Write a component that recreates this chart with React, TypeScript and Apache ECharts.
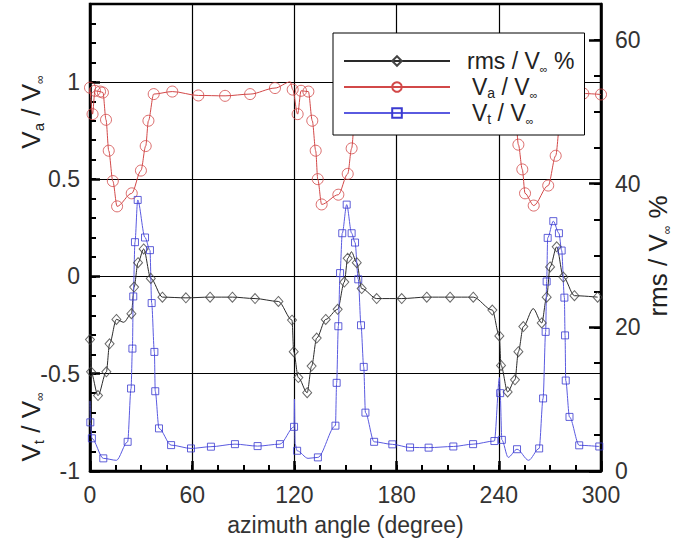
import React, { useEffect, useRef } from 'react';
import * as echarts from 'echarts';

// ---- data (azimuth angle in degrees, value) ----
// rms / V∞ % (right axis) : points drawn with diamond markers
const rmsMarkers: [number, number][] = [
  [0, 18.3], [0.6, 13.8], [4.7, 10.5], [9.6, 13.8], [11.5, 17.7], [15.5, 21.1],
  [24.3, 21.9], [25.9, 25.6], [28.2, 29.0], [31.5, 30.9], [35.7, 26.8], [42.5, 24.2],
  [56.3, 24.1], [70.5, 24.2], [83.6, 24.2], [96.9, 24.0], [110.6, 23.6], [118.6, 21.0],
  [119.6, 16.6], [122.3, 13.0], [127.5, 10.9], [130.1, 14.6], [133.1, 18.5], [138.4, 21.1],
  [145.4, 22.5], [149.3, 26.3], [151.3, 29.6], [156.6, 29.0], [159.5, 25.4], [168.3, 24.0],
  [183.0, 24.0], [197.7, 24.2], [211.4, 24.2], [225.0, 24.2], [236.2, 22.4], [240.3, 18.8],
  [241.3, 14.7], [245.2, 11.0], [249.5, 12.7], [251.5, 16.6], [254.4, 20.1], [265.2, 20.6],
  [268.1, 24.2], [270.1, 28.4], [274.0, 31.2], [277.9, 27.0], [284.4, 24.4], [298.0, 24.2],
];
// rms curve points without a marker
const rmsCurveOnly: [number, number][] = [[19.8, 20.7], [153.5, 30.5], [260.2, 22.6]];

// Va / V∞ (left axis) : circle markers
const vaMarkers: [number, number][] = [
  [0, 0.97], [1.5, 0.834], [2.9, 0.954], [5.9, 0.95], [7.6, 0.945], [9.4, 0.805],
  [11.0, 0.646], [13.4, 0.49], [15.9, 0.36], [24.5, 0.427], [29.9, 0.544], [32.7, 0.67],
  [34.3, 0.8], [37.4, 0.937], [48.3, 0.95], [63.6, 0.93], [79.3, 0.928], [94.0, 0.937],
  [108.6, 0.968], [119.0, 0.96], [121.9, 0.834], [123.9, 0.954], [128.2, 0.95], [130.5, 0.8],
  [132.5, 0.646], [133.7, 0.5], [136.0, 0.37], [145.8, 0.42], [151.3, 0.527], [153.6, 0.658],
  [155.3, 0.8], [157.6, 0.937], [168.3, 0.95], [183.6, 0.93], [199.3, 0.928], [214.0, 0.937],
  [228.6, 0.968], [239.0, 0.96], [241.9, 0.834], [243.9, 0.954], [246.5, 0.95], [248.4, 0.945],
  [250.0, 0.8], [251.5, 0.677], [253.8, 0.55], [255.4, 0.427], [260.5, 0.364], [269.0, 0.467],
  [273.4, 0.62], [276.0, 0.8], [279.0, 0.937], [289.6, 0.94], [300.0, 0.935],
];
const vaCurveOnly: [number, number][] = [[117.6, 1.0], [237.6, 1.0]];

// Vt / V∞ (left axis) : square markers
const vtMarkers: [number, number][] = [
  [0.2, -0.75], [1.1, -0.832], [7.8, -0.935], [22.1, -0.85], [24.1, -0.576], [24.9, -0.371],
  [25.4, -0.103], [26.4, 0.176], [28.0, 0.393], [32.3, 0.2], [35.2, 0.135], [36.2, -0.137],
  [37.8, -0.388], [38.3, -0.59], [40.5, -0.781], [47.6, -0.867], [59.3, -0.884], [71.0, -0.875],
  [85.1, -0.862], [98.4, -0.872], [111.5, -0.862], [119.8, -0.773], [121.6, -0.896], [133.8, -0.93],
  [144.1, -0.767], [144.8, -0.547], [145.8, -0.256], [146.8, 0.017], [148.1, 0.222], [150.7, 0.369],
  [153.6, 0.222], [155.6, 0.174], [157.5, -0.015], [159.1, -0.251], [160.7, -0.465], [161.7, -0.7],
  [166.8, -0.85], [177.5, -0.863], [187.9, -0.879], [198.8, -0.88], [213.3, -0.874], [224.9, -0.862],
  [237.4, -0.846], [240.8, -0.6], [241.8, -0.84], [250.7, -0.888], [263.7, -0.884], [266.0, -0.627],
  [267.5, -0.285], [268.1, -0.026], [268.7, 0.198], [272.0, 0.284], [275.3, 0.222], [276.9, 0.133],
  [278.5, -0.109], [278.9, -0.303], [279.3, -0.535], [281.5, -0.722], [287.2, -0.868], [299.0, -0.874],
];
const vtCurveOnly: [number, number][] = [
  [0, -0.64], [15.5, -0.945], [120.0, -0.63], [120.4, -0.86], [128.0, -0.935],
  [240.4, -0.52], [245.5, -0.93], [257.5, -0.945],
];

// axes
const X_MIN = 0, X_MAX = 300, X_STEP = 60, X_MINOR = 15;
const L_MIN = -1, L_MAX = 1.4, L_STEP = 0.5, L_MINOR = 0.1;
const R_MIN = 0, R_MAX = 65, R_STEP = 20, R_MINOR = 5;

const LEGEND_NAMES = ['rms', 'Va', 'Vt'];

const FONT = 'Liberation Sans';
const BLACK = '#2a2a2a';
const RED = '#d24848';
const BLUE = '#3a3ad0';
const TICK = '#000';

function curve(m: [number, number][], e: [number, number][]) {
  return [...m, ...e].sort((a, b) => a[0] - b[0]);
}

export default function App() {
  const ref = useRef<HTMLDivElement>(null);
  useEffect(() => {
    if (!ref.current) return;
    const chart = echarts.init(ref.current, undefined, { renderer: 'svg' });
    const grid = { left: 90, right: 73, top: 4, bottom: 73 };
    const hollow = (c: string) => ({ color: 'rgba(255,255,255,0)', borderColor: c, borderWidth: 1 });
    const titleRich = {
      m: { fontSize: 26, fontFamily: FONT, fill: '#222', lineHeight: 30, verticalAlign: 'middle' },
      s: { fontSize: 15, fontFamily: FONT, fill: '#222', lineHeight: 12, verticalAlign: 'bottom' },
      i: { fontSize: 12, fontFamily: FONT, fill: '#222', lineHeight: 12, verticalAlign: 'bottom' },
    };
    const minorAxisBase = {
      gridIndex: 1, type: 'value',
      axisLine: { show: true, onZero: false, lineStyle: { color: 'rgba(0,0,0,0)', width: 0 } },
      axisLabel: { show: false }, splitLine: { show: false },
    };
    const option: any = {
      animation: false,
      textStyle: { fontFamily: FONT },
      grid: [
        { ...grid, show: true, borderColor: '#000', borderWidth: 2.5, backgroundColor: 'transparent' },
        { ...grid, show: false },
      ],
      xAxis: [
        {
          gridIndex: 0, type: 'value', min: X_MIN, max: X_MAX, interval: X_STEP, position: 'bottom',
          axisLine: { show: true, onZero: false, lineStyle: { color: '#000', width: 2.5 } },
          axisTick: { show: true, inside: true, length: 10, lineStyle: { color: TICK, width: 2.5 } },
          minorTick: { show: false },
          axisLabel: { fontSize: 23, color: '#333', margin: 12, fontFamily: FONT },
          splitLine: { show: true, lineStyle: { color: '#000', width: 1.2 } },
          name: 'azimuth angle (degree)', nameLocation: 'middle', nameGap: 42,
          nameTextStyle: { fontSize: 23, color: '#333', fontFamily: FONT },
        },
        {
          ...minorAxisBase, position: 'bottom', min: X_MIN, max: X_MAX, interval: X_MINOR,
          axisTick: { show: true, inside: true, length: 6, lineStyle: { color: TICK, width: 2 } },
        },
      ],
      yAxis: [
        {
          gridIndex: 0, type: 'value', position: 'left', min: L_MIN, max: L_MAX, interval: L_STEP,
          axisLine: { show: true, onZero: false, lineStyle: { color: '#000', width: 2.5 } },
          axisTick: { show: true, inside: true, length: 10, lineStyle: { color: TICK, width: 2.5 } },
          axisLabel: { fontSize: 23, color: '#333', margin: 10, showMaxLabel: false, fontFamily: FONT },
          splitLine: { show: true, lineStyle: { color: '#000', width: 1.2 } },
        },
        {
          gridIndex: 0, type: 'value', position: 'right', min: R_MIN, max: R_MAX, interval: R_STEP,
          axisLine: { show: true, onZero: false, lineStyle: { color: '#000', width: 2.5 } },
          axisTick: { show: true, inside: true, length: 12, lineStyle: { color: TICK, width: 2.5 } },
          axisLabel: { fontSize: 23, color: '#333', margin: 14, showMaxLabel: false, fontFamily: FONT },
          splitLine: { show: false },
        },
        {
          ...minorAxisBase, position: 'left', min: L_MIN, max: L_MAX, interval: L_MINOR,
          axisTick: { show: true, inside: true, length: 6, lineStyle: { color: TICK, width: 2 } },
        },
        {
          ...minorAxisBase, position: 'right', min: R_MIN, max: R_MAX, interval: R_MINOR,
          axisTick: { show: true, inside: true, length: 7, lineStyle: { color: TICK, width: 2 } },
        },
      ],
      legend: {
        data: LEGEND_NAMES,
        orient: 'vertical', left: 333, top: 33,
        padding: [15, 10, 9, 10],
        itemWidth: 106, itemHeight: 12, itemGap: 0,
        backgroundColor: '#fff', borderColor: '#000', borderWidth: 1, borderRadius: 0,
        selectedMode: false, z: 10,
        formatter: (name: string) => {
          if (name === 'rms') return '{p|rms / V}{s|∞}{m| %}';
          if (name === 'Va') return '{q|V}{a|a}{m| / V}{s|∞}';
          return '{q|V}{a|t}{m| / V}{s|∞}';
        },
        textStyle: {
          fontSize: 23, lineHeight: 26, color: '#222', fontFamily: FONT,
          rich: {
            m: { fontSize: 23, lineHeight: 26, color: '#222', fontFamily: FONT },
            p: { fontSize: 23, lineHeight: 26, color: '#222', fontFamily: FONT, padding: [0, 0, 0, 12] },
            q: { fontSize: 23, lineHeight: 26, color: '#222', fontFamily: FONT, padding: [0, 0, 0, 17] },
            s: { fontSize: 11, lineHeight: 10, color: '#222', fontFamily: FONT, verticalAlign: 'bottom' },
            a: { fontSize: 14, lineHeight: 12, color: '#222', fontFamily: FONT, verticalAlign: 'bottom' },
          },
        },
      },
      series: [
        {
          name: 'rms', type: 'line', xAxisIndex: 0, yAxisIndex: 1,
          data: curve(rmsMarkers, rmsCurveOnly), smooth: 0.3, smoothMonotone: 'x',
          showSymbol: false, symbol: 'diamond', symbolSize: 9,
          lineStyle: { color: BLACK, width: 1 }, itemStyle: hollow('#444'), z: 2,
        },
        {
          name: 'Va', type: 'line', xAxisIndex: 0, yAxisIndex: 0,
          data: curve(vaMarkers, vaCurveOnly), smooth: 0.3, smoothMonotone: 'x',
          showSymbol: false, symbol: 'circle', symbolSize: 11,
          lineStyle: { color: RED, width: 1 }, itemStyle: hollow(RED), z: 2,
        },
        {
          name: 'Vt', type: 'line', xAxisIndex: 0, yAxisIndex: 0,
          data: curve(vtMarkers, vtCurveOnly), smooth: 0.3, smoothMonotone: 'x',
          showSymbol: false, symbol: 'rect', symbolSize: 8,
          lineStyle: { color: '#5a5ae0', width: 1 }, itemStyle: hollow(BLUE), z: 2,
        },
        {
          name: 'rmsMarks', type: 'scatter', xAxisIndex: 0, yAxisIndex: 1, data: rmsMarkers,
          symbol: 'diamond', symbolSize: [9, 10], itemStyle: hollow('#444'), z: 3,
        },
        {
          name: 'VaMarks', type: 'scatter', xAxisIndex: 0, yAxisIndex: 0, data: vaMarkers,
          symbol: 'circle', symbolSize: 11, itemStyle: hollow(RED), z: 3,
        },
        {
          name: 'VtMarks', type: 'scatter', xAxisIndex: 0, yAxisIndex: 0, data: vtMarkers,
          symbol: 'rect', symbolSize: 7, itemStyle: hollow(BLUE), z: 3,
        },
      ],
      graphic: [
        {
          type: 'text', x: 31, y: 112, rotation: Math.PI / 2,
          style: { text: '{m|V}{s|a}{m| / V}{i|∞}', rich: titleRich, align: 'center', verticalAlign: 'middle', fill: '#222' },
        },
        {
          type: 'text', x: 31, y: 427, rotation: Math.PI / 2,
          style: { text: '{m|V}{s|t}{m| / V}{i|∞}', rich: titleRich, align: 'center', verticalAlign: 'middle', fill: '#222' },
        },
        {
          type: 'text', x: 658, y: 256, rotation: Math.PI / 2,
          style: { text: '{m|rms / V}{i|∞}{m| %}', rich: titleRich, align: 'center', verticalAlign: 'middle', fill: '#222' },
        },
      ],
    };
    chart.setOption(option);
    return () => chart.dispose();
  }, []);
  return <div ref={ref} style={{ position: 'absolute', left: 0, top: 0, width: 674, height: 544, background: '#fff' }} />;
}
